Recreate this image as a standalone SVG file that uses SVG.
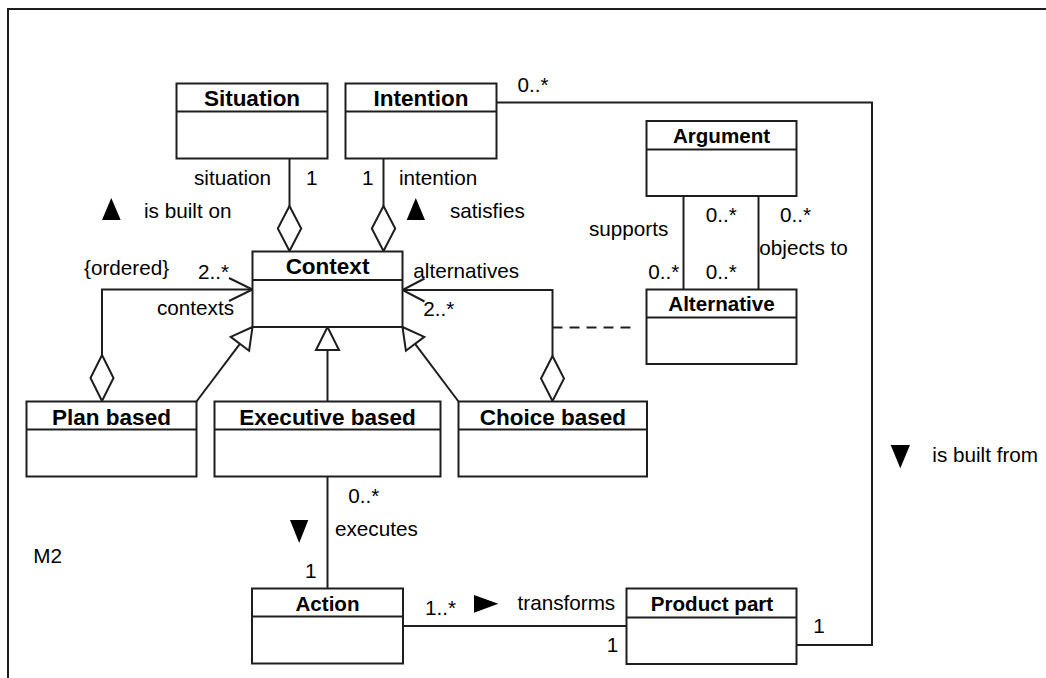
<svg xmlns="http://www.w3.org/2000/svg" width="1046" height="678" viewBox="0 0 1046 678">
<style>
.box{fill:#fff;stroke:#1e1e1e;stroke-width:2}
.ln{fill:none;stroke:#1e1e1e;stroke-width:2}
.dash{fill:none;stroke:#1e1e1e;stroke-width:2;stroke-dasharray:10,7}
.dia{fill:#fff;stroke:#1e1e1e;stroke-width:2;stroke-linejoin:miter}
.tri{fill:#000}
.t{font-family:"Liberation Sans",Arial,sans-serif;font-size:20.7px;fill:#000}
.h{font-family:"Liberation Sans",Arial,sans-serif;font-size:22.5px;font-weight:bold;fill:#000;text-anchor:middle}
.hs{font-family:"Liberation Sans",Arial,sans-serif;font-size:20.6px;font-weight:bold;fill:#000;text-anchor:middle}
</style>
<rect width="1046" height="678" fill="#fff"/>
<path class="ln" d="M8,678 V9 H1046" stroke-width="2.5"/>

<g id="connectors">
  <path class="ln" d="M289.5,158.5 V206"/>
  <polygon class="dia" points="289.5,206 301.2,228.5 289.5,251 277.8,228.5"/>
  <path class="ln" d="M383.5,158.5 V206"/>
  <polygon class="dia" points="383.5,206 395.2,228.5 383.5,251 371.8,228.5"/>
  <path class="ln" d="M252.5,289.5 H102 V355"/>
  <polygon class="dia" points="102,355 113.5,378 102,401 90.5,378"/>
  <path class="ln" d="M229,278 L252.5,289.5 L229,301"/>
  <path class="ln" d="M402.5,290 H552.5 V356"/>
  <polygon class="dia" points="552.5,356 564,378.5 552.5,401 541,378.5"/>
  <path class="ln" d="M424.5,278.5 L402.5,290 L424.5,301.5"/>
  <path class="dash" d="M552.5,327.5 H635"/>
  <path class="ln" d="M327.5,401.5 V350"/>
  <polygon class="dia" points="327.5,327 339,350 316,350"/>
  <path class="ln" d="M196.5,401.5 L239.9,343.8"/>
  <polygon class="dia" points="252.5,327 249.1,350.7 230.7,336.9"/>
  <path class="ln" d="M458.5,401.5 L415.1,343.8"/>
  <polygon class="dia" points="402.5,327 405.9,350.7 424.3,336.9"/>
  <path class="ln" d="M683.5,196 V289.5"/>
  <path class="ln" d="M758.5,196 V289.5"/>
  <path class="ln" d="M327.5,476.5 V588.5"/>
  <path class="ln" d="M403,626 H626.5"/>
  <path class="ln" d="M496.5,102.5 H872 V645 H796.5"/>
</g>

<g id="situation">
  <rect class="box" x="176.5" y="83.5" width="151" height="75"/>
  <path class="ln" d="M176.5,111.5 H327.5"/>
  <text class="h" x="252" y="106">Situation</text>
</g>
<g id="intention">
  <rect class="box" x="345.5" y="83.5" width="151" height="75"/>
  <path class="ln" d="M345.5,111.5 H496.5"/>
  <text class="h" x="421" y="106">Intention</text>
</g>
<g id="context">
  <rect class="box" x="252.5" y="251.5" width="150" height="75.5"/>
  <path class="ln" d="M252.5,280 H402.5"/>
  <text class="h" x="327.5" y="274">Context</text>
</g>
<g id="argument">
  <rect class="box" x="646.5" y="121" width="150" height="75"/>
  <path class="ln" d="M646.5,149.5 H796.5"/>
  <text class="hs" x="721.5" y="143">Argument</text>
</g>
<g id="alternative">
  <rect class="box" x="646.5" y="289.5" width="150" height="74.5"/>
  <path class="ln" d="M646.5,317.5 H796.5"/>
  <text class="hs" x="721.5" y="311">Alternative</text>
</g>
<g id="plan-based">
  <rect class="box" x="26.5" y="401.5" width="170" height="75"/>
  <path class="ln" d="M26.5,429.5 H196.5"/>
  <text class="h" x="111.5" y="424.5">Plan based</text>
</g>
<g id="executive-based">
  <rect class="box" x="214.5" y="401.5" width="226" height="75"/>
  <path class="ln" d="M214.5,429.5 H440.5"/>
  <text class="h" x="327.5" y="424.5">Executive based</text>
</g>
<g id="choice-based">
  <rect class="box" x="458.5" y="401.5" width="188.5" height="75"/>
  <path class="ln" d="M458.5,429.5 H647"/>
  <text class="h" x="552.8" y="424.5">Choice based</text>
</g>
<g id="action">
  <rect class="box" x="252" y="588.5" width="151" height="75"/>
  <path class="ln" d="M252,616.5 H403"/>
  <text class="hs" x="327.5" y="611">Action</text>
</g>
<g id="product-part">
  <rect class="box" x="626.5" y="588.5" width="170" height="75.5"/>
  <path class="ln" d="M626.5,617.5 H796.5"/>
  <text class="hs" x="712" y="610.5">Product part</text>
</g>

<g id="labels">
  <text class="t" x="194" y="184.5">situation</text>
  <text class="t" x="306" y="184.5">1</text>
  <text class="t" x="362" y="184.5">1</text>
  <text class="t" x="399" y="184.5">intention</text>
  <polygon class="tri" points="102,220 111.3,198 120.7,220"/>
  <text class="t" x="144" y="218">is built on</text>
  <polygon class="tri" points="406.7,220 415.8,198 425,220"/>
  <text class="t" x="450" y="218">satisfies</text>
  <text class="t" x="84" y="275">{ordered}</text>
  <text class="t" x="198" y="279">2..*</text>
  <text class="t" x="157" y="315">contexts</text>
  <text class="t" x="413.3" y="278.3">alternatives</text>
  <text class="t" x="423.3" y="316">2..*</text>
  <text class="t" x="517.5" y="91.7">0..*</text>
  <text class="t" x="589" y="236">supports</text>
  <text class="t" x="705.7" y="222">0..*</text>
  <text class="t" x="780" y="222">0..*</text>
  <text class="t" x="759.3" y="255">objects to</text>
  <text class="t" x="648.3" y="278.5">0..*</text>
  <text class="t" x="705.7" y="278.5">0..*</text>
  <text class="t" x="348.3" y="503">0..*</text>
  <polygon class="tri" points="290,520 308.3,520 299.2,543"/>
  <text class="t" x="335" y="536">executes</text>
  <text class="t" x="305" y="578.3">1</text>
  <text class="t" x="33.3" y="563">M2</text>
  <text class="t" x="425" y="615">1..*</text>
  <polygon class="tri" points="474,595 498.3,603.8 474,612.7"/>
  <text class="t" x="517.5" y="610">transforms</text>
  <text class="t" x="606.7" y="651.7">1</text>
  <text class="t" x="813.3" y="633.3">1</text>
  <polygon class="tri" points="890.7,445 910,445 900.3,468.3"/>
  <text class="t" x="932.3" y="461.7">is built from</text>
</g>
</svg>
